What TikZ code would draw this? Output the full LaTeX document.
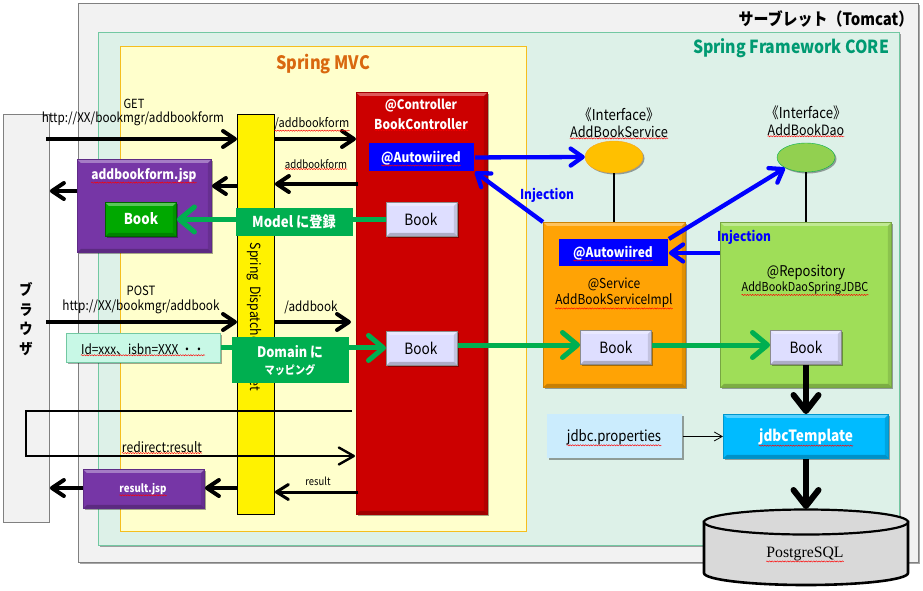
\documentclass[tikz,border=0pt]{standalone}
\usepackage{fontspec}
\setmainfont[FakeStretch=0.88]{Noto Sans CJK JP}
\newfontfamily\pgsql{Liberation Serif}
\usetikzlibrary{arrows.meta,shadows,decorations.pathmorphing,shapes.geometric}
\definecolor{tomcatfill}{HTML}{F2F2F2}
\definecolor{corefill}{HTML}{DDF1E8}
\definecolor{coreline}{HTML}{72C8A2}
\definecolor{mvcfill}{HTML}{FFFFCC}
\definecolor{mvcline}{HTML}{F5BE1E}
\definecolor{ctrlred}{HTML}{CC0000}
\definecolor{bookfill}{HTML}{DEDEFF}
\definecolor{svcorange}{HTML}{FFA305}
\definecolor{repogreen}{HTML}{9FDE58}
\definecolor{jsppurple}{HTML}{7636A6}
\definecolor{labelgreen}{HTML}{00AF50}
\definecolor{tmplblue}{HTML}{00BBFF}
\definecolor{propblue}{HTML}{CBECFD}
\definecolor{idfill}{HTML}{C8F8E6}
\definecolor{coretext}{HTML}{009A72}
\definecolor{mvctext}{HTML}{D9680F}
\definecolor{dbgray}{HTML}{D9D9D9}
\definecolor{bookgreen}{HTML}{00A800}
\definecolor{ifsfill}{HTML}{FFC000}
\definecolor{ifsline}{HTML}{F5A623}
\definecolor{ifdfill}{HTML}{92D050}
\tikzset{
  panel/.style={draw,line width=.9pt,anchor=north west,inner sep=0pt},
  shad/.style={drop shadow={shadow xshift=1.5pt,shadow yshift=-1.5pt,opacity=.35,fill=black}},
  bevel/.style={shad,path picture={
    \fill[white,opacity=.35] (path picture bounding box.north west)--(path picture bounding box.north east)--([xshift=-3.5pt,yshift=-3.5pt]path picture bounding box.north east)--([xshift=3.5pt,yshift=-3.5pt]path picture bounding box.north west)--cycle;
    \fill[black,opacity=.22] (path picture bounding box.south west)--(path picture bounding box.south east)--([xshift=-3.5pt,yshift=3.5pt]path picture bounding box.south east)--([xshift=3.5pt,yshift=3.5pt]path picture bounding box.south west)--cycle;
    \fill[black,opacity=.12] (path picture bounding box.north east)--(path picture bounding box.south east)--([xshift=-3.5pt,yshift=3.5pt]path picture bounding box.south east)--([xshift=-3.5pt,yshift=-3.5pt]path picture bounding box.north east)--cycle;
  }},
  txt/.style={inner sep=0pt,font=\fontsize{#1}{#1}\selectfont},
  txt/.default=13.3,
  btxt/.style={inner sep=0pt,font=\fontsize{#1}{#1}\bfseries\selectfont},
  wtxt/.style={inner sep=0pt,font=\fontsize{#1}{#1}\bfseries\selectfont,text=white},
  wtxt/.default=13.6,
  squig/.style={red,line width=.45pt,decorate,decoration={snake,amplitude=.6pt,segment length=2.6pt}},
  blk/.style={line width=4pt,-{Straight Barb[length=12pt,width=16pt,round]}},
  blu/.style={blue,line width=4.3pt,-{Straight Barb[length=12pt,width=17pt,round]}},
  grn/.style={labelgreen,line width=5pt,-{Straight Barb[length=15pt,width=25pt,round]}},
  fat/.style={line width=6pt,-{Straight Barb[length=16pt,width=25pt,round]}},
}
\begin{document}
\begin{tikzpicture}[x=1pt,y=-1pt]
\useasboundingbox (0,0) rectangle (923,590);
% containers
\node[panel,draw=black!50,fill=tomcatfill,shad,minimum width=840pt,minimum height=559pt] (tomcat) at (78,3) {};
\node[panel,draw=coreline,fill=corefill,shad,minimum width=801pt,minimum height=513pt] (core) at (98,32) {};
\node[panel,draw=mvcline,fill=mvcfill,minimum width=406pt,minimum height=485pt] (mvc) at (120,46) {};
\node[panel,draw=black!50,fill=tomcatfill,minimum width=46pt,minimum height=408pt] (brow) at (3,114) {};
\node[panel,draw=black,fill=yellow,minimum width=37pt,minimum height=400pt] (disp) at (237,114) {};
\node[inner sep=0pt,rotate=-90,font=\fontsize{14}{14}\selectfont] (disptext) at (254,317) {Spring\ \ Dispatcher Servlet};
\node[panel,draw=ctrlred!80!black,fill=ctrlred,bevel,minimum width=131pt,minimum height=422pt] (ctrl) at (356,92) {};
\node[panel,draw=svcorange!80!black,fill=svcorange,bevel,minimum width=142pt,minimum height=165pt] (svc) at (543,222) {};
\node[panel,draw=repogreen!75!black,fill=repogreen,bevel,minimum width=171pt,minimum height=165pt] (repo) at (720,222) {};
\node[panel,draw=jsppurple!80!black,fill=jsppurple,bevel,minimum width=134pt,minimum height=93pt] (form) at (77,159) {};
\node[panel,draw=jsppurple!80!black,fill=jsppurple,bevel,minimum width=121pt,minimum height=39pt] (res) at (83,469) {};
% small boxes
\node[panel,draw=none,fill=blue,minimum width=105pt,minimum height=28pt] (auto1) at (369,143) {};
\node[panel,draw=none,fill=blue,minimum width=109pt,minimum height=27pt] (auto2) at (559,239) {};
\node[panel,draw=black!45,fill=bookfill,bevel,minimum width=71pt,minimum height=34pt] (bk1) at (386,202) {};
\node[panel,draw=black!45,fill=bookfill,bevel,minimum width=71pt,minimum height=34pt] (bk2) at (386,331) {};
\node[panel,draw=black!45,fill=bookfill,bevel,minimum width=71pt,minimum height=34pt] (bk3) at (580,330) {};
\node[panel,draw=black!45,fill=bookfill,bevel,minimum width=71pt,minimum height=34pt] (bk4) at (770,330) {};
\node[panel,draw=bookgreen!60!black,fill=bookgreen,bevel,minimum width=71pt,minimum height=34pt] (bk0) at (105,202) {};
\node[panel,draw=tmplblue!80!black,fill=tmplblue,bevel,minimum width=165pt,minimum height=44pt] (tmpl) at (723,414) {};
\node[panel,draw=none,fill=propblue,shad,minimum width=135pt,minimum height=44pt] (prop) at (547,414) {};
\node[panel,draw=coreline,fill=idfill,shad,minimum width=154pt,minimum height=29pt] (idbox) at (66,333) {};
\node[ellipse,draw=ifsline,fill=ifsfill,shad,minimum width=58pt,minimum height=32pt,inner sep=0pt] (ifs) at (614,157) {};
\node[ellipse,draw=labelgreen,fill=ifdfill,shad,minimum width=58pt,minimum height=29pt,inner sep=0pt] (ifd) at (806,157.5) {};
% database
\coordinate (dbtl) at (704,522);
\coordinate (dbtr) at (908,522);
\coordinate (dbbr) at (908,573);
\coordinate (dbbl) at (704,573);
\path[fill=dbgray,draw=black,line width=2.6pt] (dbtl) -- (dbbl) arc[x radius=102,y radius=12,start angle=180,end angle=0] -- (dbtr) -- cycle;
\draw[fill=dbgray,draw=black,line width=2.2pt] (806,522) ellipse[x radius=102,y radius=12.5];
\coordinate (dbtop) at (806,509);
% free connector ends
\coordinate (getS) at (46,139);
\coordinate (postS) at (46,322);
\coordinate (rdA) at (352,411);
\coordinate (rdB) at (26,411);
\coordinate (rdC) at (26,456);
\coordinate (rdD) at (355,456);
% connectors
\draw[blk] (getS) -- (disp.west |- getS);
\draw[blk] (disp.east |- getS) -- (354,139 -| ctrl.west);
\draw[blk] (358,184) -- (disp.east |- 358,184);
\draw[blk] (disp.west |- 0,186) -- (form.east |- 0,186);
\draw[blk] (form.west |- 0,191) -- (brow.east |- 0,191);
\draw[blk] (postS) -- (disp.west |- postS);
\draw[blk] (disp.east |- postS) -- (351,322);
\draw[line width=2.4pt,line join=miter,-{Straight Barb[length=15pt,width=17pt,round]}] (rdA) -- (rdB) -- (rdC) -- (rdD);
\draw[line width=3pt,-{Straight Barb[length=12pt,width=15pt,round]}] (358,492) -- (disp.east |- 358,492);
\draw[blk] (disp.west |- 0,488) -- (res.east |- 0,488);
\draw[blk] (res.west |- 0,488) -- (brow.east |- 0,488);
\draw[grn] (bk1.west) -- (bk0.east);
\draw[grn] (idbox.east) -- (bk2.west |- idbox.east);
\draw[grn] (bk2.east |- 0,345) -- (bk3.west |- 0,345);
\draw[grn] (bk3.east |- 0,345) -- (bk4.west |- 0,345);
\draw[blu] (auto1.east) -- (ifs.west);
\draw[blu] (svc.north west) -- (auto1.south east);
\draw[blu] (auto2.north east) -- (785,168);
\draw[blu] (repo.west |- auto2.east) -- (auto2.east);
\draw[line width=2pt] (ifs.south) -- (svc.north -| ifs.south);
\draw[line width=2pt] (ifd.south) -- (repo.north -| ifd.south);
\draw[fat] (bk4.south -| ifd.south) -- (tmpl.north -| ifd.south);
\draw[fat] (tmpl.south -| ifd.south) -- (dbtop);
\draw[line width=.8pt,-{Straight Barb[length=8pt,width=9pt]}] (prop.east) -- (tmpl.west);
% overlaid labels
\node[panel,draw=none,fill=labelgreen,minimum width=117pt,minimum height=28pt] (model) at (236,208) {};
\node[panel,draw=none,fill=labelgreen,minimum width=117pt,minimum height=46pt] (domain) at (232,337) {};
% texts
\node[btxt=17] (t1) at (826,19) {サーブレット（Tomcat）};
\node[btxt=18,text=coretext] (t2) at (791,48) {Spring Framework CORE};
\node[btxt=18.5,text=mvctext] (t3) at (323,64) {Spring MVC};
\node[txt=12.6] (t4) at (134,104) {GET};
\node[txt] (t5) at (133,119) {http://XX/bookmgr/addbookform};
\node[txt=12.5] (t6) at (312,124) {/addbookform};
\node[txt=11] (t7) at (316,164) {addbookform};
\node[wtxt=13.5] (t8) at (144,175) {addbookform.jsp};
\node[wtxt=15] (t9) at (141,219) {Book};
\node[wtxt=15] (t10) at (294,222) {Model に登録};
\node[wtxt=13.1] (t11) at (421,106) {@Controller};
\node[wtxt=13.6] (t12) at (421,124) {BookController};
\node[wtxt] (t13) at (421,158) {@Autowiired};
\node[txt=15.5] (t14) at (421,219) {Book};
\node[txt=15] (t15) at (619,115) {《Interface》};
\node[txt=14.5] (t16) at (619,132) {AddBookService};
\node[txt=15] (t17) at (806,113) {《Interface》};
\node[txt=14.2] (t18) at (806,130) {AddBookDao};
\node[btxt=13.6,text=blue] (t19) at (547,195) {Injection};
\node[btxt=13.6,text=blue] (t20) at (744,237) {Injection};
\node[wtxt] (t21) at (613,253) {@Autowiired};
\node[txt=13.7] (t22) at (614,284) {@Service};
\node[txt=13.6] (t23) at (614,301) {AddBookServiceImpl};
\node[txt=14.8] (t24) at (806,272) {@Repository};
\node[txt=12.3] (t25) at (805,288) {AddBookDaoSpringJDBC};
\node[txt=12.8] (t26) at (141,291) {POST};
\node[txt=13.4] (t27) at (141,307) {http://XX/bookmgr/addbook};
\node[txt=13.3] (t28) at (311,307) {/addbook};
\node[txt=13.5] (t29) at (143,349) {Id=xxx、isbn=XXX ・・};
\node[wtxt=14.5] (t30) at (290,352) {Domain に};
\node[wtxt=11.5] (t31) at (290,370) {マッピング};
\node[txt=13.8] (t32) at (162,447) {redirect:result};
\node[txt=10.7] (t33) at (318,481) {result};
\node[wtxt=11] (t34) at (143,489) {result.jsp};
\node[txt=15.5] (t35) at (421,348) {Book};
\node[txt=15.5] (t36) at (616,347) {Book};
\node[txt=15.5] (t37) at (806,347) {Book};
\node[txt=15] (t38) at (614,437) {jdbc.properties};
\node[wtxt=15.5] (t39) at (806,437) {jdbcTemplate};
\node[inner sep=0pt,font=\fontsize{15.8}{16}\pgsql\selectfont] (t40) at (805,554) {PostgreSQL};
\node[inner sep=0pt,align=center,font=\fontsize{15}{19.5}\bfseries\selectfont] (t41) at (26,319) {ブ\\ラ\\ウ\\ザ};
% spell-check underlines
\foreach \n in {t6,t7,t8,t12,t13,t16,t18,t21,t23,t25,t29,t32,t34,t38,t39,t40}
  \draw[squig] ([yshift=-.3pt]\n.south west) -- ([yshift=-.3pt]\n.south east);
\end{tikzpicture}
\end{document}
